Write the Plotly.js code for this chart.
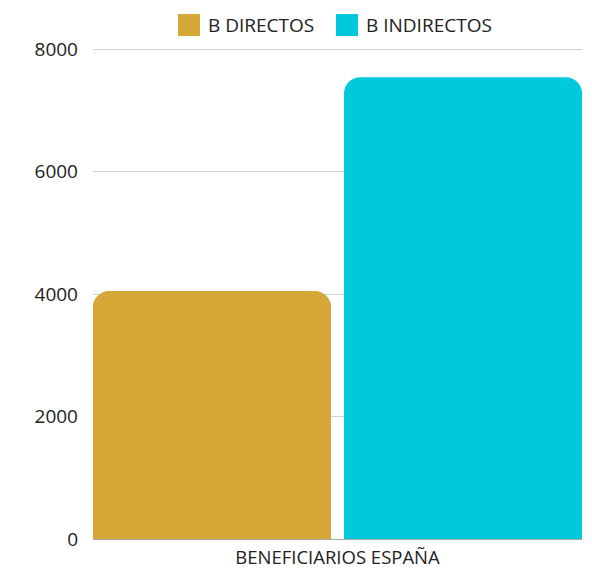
<!DOCTYPE html>
<html>
<head>
<meta charset="utf-8">
<script src="https://cdn.plot.ly/plotly-3.0.1.min.js"></script>
<style>html,body{margin:0;padding:0;background:#fff;}#chart{width:592px;height:570px;}</style>
</head>
<body>
<div id="chart"></div>
<script>
const categories = ["BENEFICIARIOS ESPAÑA"];
const seriesNames = ["B DIRECTOS", "B INDIRECTOS"];
const seriesColors = ['#D5A736', '#00C9DB'];
const directos = [4050];
const indirectos = [7540];
const yTicks = [0, 2000, 4000, 6000, 8000];

const traces = [
  {type: 'bar', name: seriesNames[0], x: categories, y: directos, marker: {color: seriesColors[0]}, hoverinfo: 'none'},
  {type: 'bar', name: seriesNames[1], x: categories, y: indirectos, marker: {color: seriesColors[1]}, hoverinfo: 'none'}
];

// plot area: y=0 at 539px, y=8000 at 49px; range extended slightly so the top gridline shows
const L = 93, R = 582, B = 539;
const yMax = 8050;
const T = B - 490 * yMax / 8000;
const px = v => (v - L) / (R - L);
const py = v => (B - v) / (B - T);
const legendItems = [
  {sq: 178, tx: 206},
  {sq: 336, tx: 364}
];
const shapes = legendItems.map((it, i) => ({
  type: 'rect', xref: 'paper', yref: 'paper',
  x0: px(it.sq), x1: px(it.sq + 22), y0: py(36), y1: py(14),
  fillcolor: seriesColors[i], line: {width: 0}
}));
const annotations = legendItems.map((it, i) => ({
  xref: 'paper', yref: 'paper', x: px(it.tx), y: py(25),
  xanchor: 'left', yanchor: 'middle', showarrow: false,
  text: seriesNames[i], font: {size: 19, color: '#222'}
}));

const layout = {
  width: 592, height: 570,
  margin: {l: L, r: 592 - R, t: T, b: 570 - B},
  paper_bgcolor: '#fff', plot_bgcolor: '#fff',
  font: {family: 'Open Sans', color: '#222', size: 19},
  barmode: 'group', bargap: 0, bargroupgap: 0.052,
  barcornerradius: 16,
  showlegend: false,
  shapes: shapes,
  annotations: annotations,
  xaxis: {type: 'category', range: [-0.487, 0.487], showgrid: false, showline: true, linecolor: '#aaa', ticks: '', tickfont: {size: 18.5}, ticklabelstandoff: 2},
  yaxis: {range: [0, yMax], tickvals: yTicks, ticktext: yTicks.map(String), gridcolor: '#d3d3d3', zeroline: false, ticks: '', ticklabelstandoff: 14, tickfont: {size: 19}}
};

Plotly.newPlot('chart', traces, layout, {displayModeBar: false, staticPlot: true});
</script>
</body>
</html>
